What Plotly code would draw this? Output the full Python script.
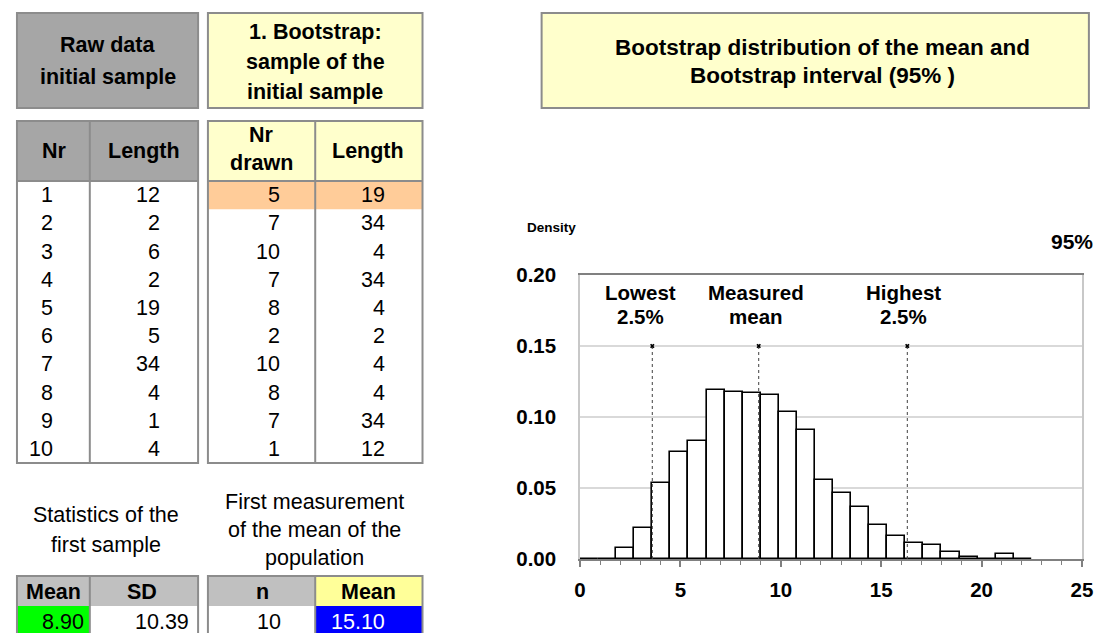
import plotly.graph_objects as go

# ---------------- data ----------------
raw_nr = [1, 2, 3, 4, 5, 6, 7, 8, 9, 10]
raw_length = [12, 2, 6, 2, 19, 5, 34, 4, 1, 4]
boot_nr = [5, 7, 10, 7, 8, 2, 10, 8, 7, 1]
boot_length = [19, 34, 4, 34, 4, 2, 4, 4, 34, 12]
sample_mean = 8.90
sample_sd = 10.39
n_sample = 10
boot_sample_mean = 15.10

bin_width = 0.9
bin_left = [0.0, 0.9, 1.8, 2.7, 3.6, 4.5, 5.4, 6.3, 7.2, 8.1, 9.0, 9.9, 10.8,
            11.7, 12.6, 13.5, 14.4, 15.3, 16.2, 17.1, 18.0, 18.9, 19.8, 20.7, 21.6]
density = [0.0, 0.0, 0.0079, 0.0215, 0.0537, 0.0755, 0.0834, 0.1190, 0.1178,
           0.1168, 0.1157, 0.1035, 0.0911, 0.0556, 0.0467, 0.0369, 0.0236,
           0.0161, 0.0114, 0.0096, 0.0049, 0.0016, 0.0002, 0.0037, 0.0002]
ci_low = 3.6
ci_high = 16.3
marker_level = 0.15

x_ticks = [0, 5, 10, 15, 20, 25]
y_ticks = [0.00, 0.05, 0.10, 0.15, 0.20]

# ---------------- layout geometry (pixels) ----------------
FW, FH = 1105, 633
L, R, T, B = 580, 15, 275, 74
PW = FW - L - R
PH = FH - T - B
FONT = "Liberation Sans, Arial, sans-serif"


def X(px):
    return (px - L) / PW


def Y(py):
    return (T + PH - py) / PH


shapes = []
annotations = []
BORDER = "#8c8c8c"
BW = 2


def rect(x0, y0, x1, y1, fill=None, border=False):
    shapes.append(dict(type="rect", xref="paper", yref="paper",
                       x0=X(x0), x1=X(x1), y0=Y(y1), y1=Y(y0),
                       fillcolor=fill if fill else "rgba(0,0,0,0)",
                       line=dict(color=BORDER if border else "rgba(0,0,0,0)",
                                 width=BW if border else 0),
                       layer="above" if border else "below"))


def hline(x0, x1, y):
    shapes.append(dict(type="line", xref="paper", yref="paper",
                       x0=X(x0), x1=X(x1), y0=Y(y), y1=Y(y),
                       line=dict(color=BORDER, width=BW), layer="above"))


def vline(x, y0, y1):
    shapes.append(dict(type="line", xref="paper", yref="paper",
                       x0=X(x), x1=X(x), y0=Y(y0), y1=Y(y1),
                       line=dict(color=BORDER, width=BW), layer="above"))


def text(px, py, s, size=21.5, bold=False, anchor="center", color="black"):
    annotations.append(dict(xref="paper", yref="paper", x=X(px), y=Y(py),
                            text=s, showarrow=False, xanchor=anchor,
                            yanchor="middle",
                            font=dict(family=FONT, size=size, color=color,
                                      weight="bold" if bold else "normal")))


# ---- header boxes ----
rect(8, 13, 192, 108, "#a6a6a6", True)
text(100, 45, "Raw data", bold=True)
text(100, 77, "initial sample", bold=True)

rect(202, 13, 420, 108, "#ffffcc", True)
text(311, 32, "1. Bootstrap:", bold=True)
text(311, 62, "sample of the", bold=True)
text(311, 92, "initial sample", bold=True)

# ---- main tables ----
ROW0, ROWH = 181, 28.2
rect(8, 121, 192, 181, "#a6a6a6")
rect(8, 181, 192, 463, "white")
rect(8, 121, 192, 463, None, True)
vline(82, 121, 463)
hline(8, 192, 181)
text(46, 151, "Nr", bold=True)
text(137, 151, "Length", bold=True)

rect(202, 121, 420, 181, "#ffffcc")
rect(202, 181, 420, 463, "white")
rect(202, 181, 420, ROW0 + ROWH, "#ffcc99")
rect(202, 121, 420, 463, None, True)
vline(311, 121, 463)
hline(202, 420, 181)
text(256, 135, "Nr", bold=True)
text(256, 163, "drawn", bold=True)
text(365, 151, "Length", bold=True)

for i in range(len(raw_nr)):
    cy = ROW0 + ROWH * (i + 0.5)
    text(47, cy, str(raw_nr[i]), anchor="right")
    text(155, cy, str(raw_length[i]), anchor="right")
    text(277, cy, str(boot_nr[i]), anchor="right")
    text(384, cy, str(boot_length[i]), anchor="right")

# ---- statistics captions ----
text(98, 515, "Statistics of the")
text(98, 545, "first sample")
text(310, 502, "First measurement")
text(310, 530, "of the mean of the")
text(310, 558, "population")

# ---- bottom tables ----
rect(8, 576, 192, 606, "#c0c0c0")
rect(8, 606, 82, 640, "#00ff00")
rect(82, 606, 192, 640, "white")
rect(8, 576, 192, 640, None, True)
vline(82, 576, 640)
text(45, 592, "Mean", bold=True)
text(135, 592, "SD", bold=True)
text(78, 622, f"{sample_mean:.2f}", anchor="right")
text(185, 622, f"{sample_sd:.2f}", anchor="right")

rect(202, 576, 311, 606, "#c0c0c0")
rect(311, 576, 420, 606, "#ffff99")
rect(202, 606, 311, 640, "white")
rect(311, 606, 420, 640, "#0000ff")
rect(202, 576, 420, 640, None, True)
vline(311, 576, 640)
text(257, 592, "n", bold=True)
text(365, 592, "Mean", bold=True)
text(278, 622, str(n_sample), anchor="right")
text(384, 622, f"{boot_sample_mean:.2f}", anchor="right", color="white")

# ---- chart title box ----
rect(541, 13, 1097, 108, "#ffffcc", True)
text(826, 47, "Bootstrap distribution of the mean and", size=22.5, bold=True)
text(826, 75, "Bootstrap interval (95% )", size=22.5, bold=True)

# ---- chart texts ----
text(551, 227, "Density", size=13.5, bold=True)
text(1080, 241, "95%", size=21, bold=True)

fig = go.Figure()

centers = [b + bin_width / 2 for b in bin_left]
fig.add_trace(go.Bar(x=centers, y=density, width=bin_width,
                     marker=dict(color="white", line=dict(color="black", width=1.6)),
                     hoverinfo="skip", showlegend=False))

for xv in [ci_low, sample_mean, ci_high]:
    fig.add_trace(go.Scatter(x=[xv, xv], y=[0, marker_level], mode="lines",
                             line=dict(color="#404040", width=1, dash="dot"),
                             showlegend=False, hoverinfo="skip"))
fig.add_trace(go.Scatter(x=[ci_low, sample_mean, ci_high],
                         y=[marker_level] * 3, mode="markers",
                         marker=dict(symbol="x", size=4, color="black"),
                         showlegend=False, hoverinfo="skip"))

labels = [(2.99, "Lowest", "2.5%"), (8.75, "Measured", "mean"), (16.1, "Highest", "2.5%")]
for xv, a, b in labels:
    annotations.append(dict(x=xv, y=0.188, xref="x", yref="y", text=a,
                            showarrow=False, yanchor="middle",
                            font=dict(family=FONT, size=20.5, weight="bold", color="black")))
    annotations.append(dict(x=xv, y=0.1705, xref="x", yref="y", text=b,
                            showarrow=False, yanchor="middle",
                            font=dict(family=FONT, size=20.5, weight="bold", color="black")))

fig.update_layout(
    width=FW, height=FH,
    margin=dict(l=L, r=R, t=T, b=B, pad=0),
    paper_bgcolor="white", plot_bgcolor="white",
    bargap=0, showlegend=False,
    shapes=shapes, annotations=annotations,
    font=dict(family=FONT, color="black"),
)
fig.update_xaxes(range=[0, 25], tickvals=x_ticks, ticks="outside", ticklen=6,
                 tickcolor="#808080", tickwidth=1.5,
                 minor=dict(dtick=1, ticks="outside", ticklen=4, tickcolor="#808080", tickwidth=1),
                 showline=True, linecolor="#808080", linewidth=1.5, mirror=True,
                 showgrid=False, zeroline=False, ticklabelstandoff=6,
                 tickfont=dict(family=FONT, size=20.5, weight="bold", color="black"))
fig.update_yaxes(range=[0, 0.2], tickvals=y_ticks, tickformat=".2f",
                 showline=True, linecolor="#c8c8c8", linewidth=1.5, mirror=True,
                 showgrid=True, gridcolor="#d9d9d9", gridwidth=1.5, zeroline=False,
                 ticks="", ticklabelstandoff=18,
                 tickfont=dict(family=FONT, size=20.5, weight="bold", color="black"))

fig.write_html("out.html")
